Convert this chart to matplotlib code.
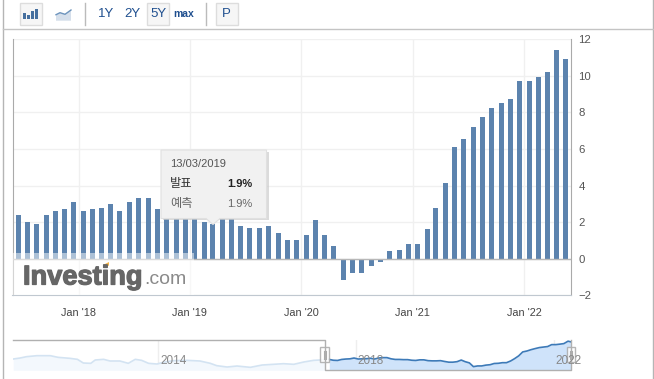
import datetime
from matplotlib import pyplot as plt
from matplotlib.patches import Rectangle, Polygon
import matplotlib.dates as mdates
import matplotlib.patheffects as pe
import pandas as pd

plt.rcParams['font.family'] = ['Liberation Sans', 'Noto Sans CJK KR', 'DejaVu Sans']

W, H = 654, 379

# monthly values, Jun 2017 .. May 2022
months = pd.date_range("2017-06-17", periods=60, freq=pd.DateOffset(months=1))
values = [2.4, 2.0, 1.9, 2.4, 2.6, 2.7, 3.1, 2.6, 2.7, 2.75,
          3.0, 2.6, 3.1, 3.3, 3.3, 2.7, 2.4, 2.4, 2.3, 2.3,
          2.0, 1.9, 2.2, 2.2, 1.8, 1.7, 1.7, 1.8, 1.4, 1.05,
          1.05, 1.3, 2.1, 1.3, 0.7, -1.15, -0.8, -0.8, -0.4, -0.2,
          0.4, 0.5, 0.8, 0.8, 1.65, 2.75, 4.15, 6.1, 6.55, 7.2,
          7.75, 8.25, 8.5, 8.75, 9.7, 9.7, 9.95, 10.2, 11.4, 10.9]

# navigator, part before the selected range
old_years = [2011.06, 2011.2, 2011.33, 2011.54, 2011.81, 2011.97, 2012.21, 2012.36, 2012.48, 2012.63,
             2012.72, 2012.89, 2013.02, 2013.22, 2013.39, 2013.53, 2013.66, 2013.8, 2013.97, 2014.1,
             2014.3, 2014.58, 2014.84, 2015.05, 2015.18, 2015.39, 2015.59, 2015.86, 2016.1, 2016.33,
             2016.53, 2016.74, 2016.94, 2017.14, 2017.38]
old_values = [2.61, 3.1, 3.76, 4.25, 4.25, 3.43, 2.94, 2.45, 0.64, 0.48,
              2.12, 2.45, 1.63, 1.63, 0.48, 2.45, 1.95, 0.48, 0.15, 0.97,
              1.79, 1.95, 1.63, 0.48, -0.67, -1.33, -0.84, -1.49, -0.34, 0,
              0.31, 0, 1.13, 1.95, 2.28]

y_ticks = [-2, 0, 2, 4, 6, 8, 10, 12]
x_ticks = ["2018-01-01", "2019-01-01", "2020-01-01", "2021-01-01", "2022-01-01"]
x_tick_labels = ["Jan '18", "Jan '19", "Jan '20", "Jan '21", "Jan '22"]
nav_years = [2014, 2018, 2022]


def px_axes(left, top, right, bottom):
    return fig.add_axes([left / W, 1 - bottom / H, (right - left) / W, (bottom - top) / H])


fig = plt.figure(figsize=(W / 100, H / 100), dpi=100)

# main chart
ax = px_axes(12.5, 39.3, 571.3, 295.3)
day_px = (524.3 - 78.5) / 1461
x0 = mdates.date2num(datetime.date(2018, 1, 1))
ax.set_xlim(x0 - (78.5 - 12.5) / day_px, x0 + (571.3 - 78.5) / day_px)
ax.set_ylim(-2, 12)
ax.bar(months, values, width=5 / day_px, color="#5c83ae", zorder=3)
ax.axhline(0, color="#b8b8b8", lw=1, zorder=4)
ax.xaxis_date()
ax.set_xticks([mdates.date2num(pd.Timestamp(t)) for t in x_ticks])
ax.set_xticklabels(x_tick_labels, fontsize=7.8, color="#444444")
ax.set_yticks(y_ticks)
ax.yaxis.tick_right()
ax.tick_params(axis="x", length=0, pad=9.5)
ax.tick_params(axis="y", length=0, pad=5, labelsize=8.2, labelcolor="#555555")
ax.grid(True, color="#f0f0f0", lw=1)
ax.set_axisbelow(True)
ax.spines["top"].set_visible(False)
ax.spines["left"].set_color("#aaaaaa")
ax.spines["right"].set_color("#aaaaaa")
ax.spines["bottom"].set_color("#c0c8d0")

# navigator
nav = px_axes(13, 340.3, 570.5, 370.3)
nav.set_xlim(2011.056, 2022.34)
nav.set_ylim(-2.95, 11.83)
new_years = [d.year + (d.dayofyear - 1) / 365 for d in months]
nav.fill_between(old_years, old_values, -2.95, color="#f3f8fd", lw=0)
nav.plot(old_years, old_values, color="#d3e3f2", lw=1.2)
nav.fill_between(new_years, values, -2.95, color="#cfe3fa", lw=0)
nav.plot(new_years, values, color="#3d7ab8", lw=1.2)
for y in nav_years:
    nav.axvline(y, color="#eeeeee", lw=1, zorder=0)
nav.axis("off")

# everything else in pixel coordinates
ov = fig.add_axes([0, 0, 1, 1], zorder=10)
ov.set_xlim(0, W)
ov.set_ylim(H, 0)
ov.axis("off")
ov.patch.set_alpha(0)

# outer frame
ov.plot([2.5, 2.5], [0, H], color="#b5b5b5", lw=1)
ov.plot([653, 653], [0, H], color="#b5b5b5", lw=1)
ov.plot([2.5, 653], [29.3, 29.3], color="#c4c4c4", lw=1)

# toolbar
for bx in [20.3, 147.3, 216.3]:
    ov.add_patch(Rectangle((bx, 3.3), 21.4, 21.4, fc="#f6f6f6", ec="#dddddd", lw=1))
for sx in [84.5, 205.7]:
    ov.plot([sx, sx], [3, 24.7], color="#bbbbbb", lw=1)
for bx, top in [(23.3, 12.5), (27.4, 14.5), (31, 11), (35, 9)]:
    ov.add_patch(Rectangle((bx, top), 2.9, 19 - top, fc="#46709f", lw=0))
ov.add_patch(Polygon([(56, 14.7), (60, 12.7), (65, 14.3), (71, 10), (71, 20.7), (56, 20.7)], fc="#d5dfeb", lw=0))
ov.plot([56, 60, 65, 71], [14.7, 12.7, 14.3, 10], color="#6d94bd", lw=1)
for label, tx in [("1Y", 106.5), ("2Y", 132), ("5Y", 158), ("P", 226.8)]:
    ov.text(tx, 14, label, fontsize=9.5, color="#1f4f8f", ha="center", va="center")
ov.text(184, 14, "max", fontsize=7.5, color="#1f4f8f", ha="center", va="center", fontweight="bold")

# logo with white veil over the bars
ov.add_patch(Rectangle((13, 253), 181, 42, fc="white", alpha=0.5, lw=0))
ov.text(23, 284.5, "Investing", fontsize=19.6, fontweight="bold", color="#666666", ha="left", va="baseline",
        path_effects=[pe.withStroke(linewidth=0.9, foreground="#666666")])
ov.text(144, 284.5, ".com", fontsize=14, color="#8a8a8a", ha="left", va="baseline")
ov.add_patch(Polygon([(103, 265), (109, 262), (109, 265.5), (104, 267.5)], fc="#f5b54a", lw=0))

# tooltip
ov.add_patch(Polygon([(163, 152), (268.5, 152), (268.5, 220), (163, 220)], fc="#cccccc", alpha=0.7, lw=0))
ov.add_patch(Polygon([(161, 150), (266.5, 150), (266.5, 218.5), (220, 218.5), (213, 224.5), (206, 218.5), (161, 218.5)],
                     fc="#f1f1f1", ec="#e0e0e0", lw=0.8))
ov.text(170, 164, "13/03/2019", fontsize=8, color="#555555", va="center")
ov.text(170, 183.5, "발표", fontsize=8.8, color="#333333", va="center")
ov.text(252, 184, "1.9%", fontsize=8, color="#222222", fontweight="bold", ha="right", va="center")
ov.text(170, 203.5, "예측", fontsize=8.8, color="#666666", va="center")
ov.text(252, 204, "1.9%", fontsize=8, color="#666666", ha="right", va="center")

# navigator outline and handles
ov.plot([13, 325, 325, 570.5, 570.5], [340.3, 340.3, 370.3, 370.3, 340.3], color="#b0b0b0", lw=1)
for hx in [320.3, 566.7]:
    ov.add_patch(Rectangle((hx, 347.3), 8.3, 15, fc="white", ec="#aaaaaa", lw=1, alpha=0.85))
    ov.plot([hx + 3.2, hx + 3.2], [351, 358.5], color="#aaaaaa", lw=0.8)
    ov.plot([hx + 5.2, hx + 5.2], [351, 358.5], color="#aaaaaa", lw=0.8)
for y, tx in zip(nav_years, [174, 371, 568]):
    ov.text(tx, 361, str(y), fontsize=8.5, color="#888888", ha="center", va="center")

plt.savefig("out.png", dpi=100)
